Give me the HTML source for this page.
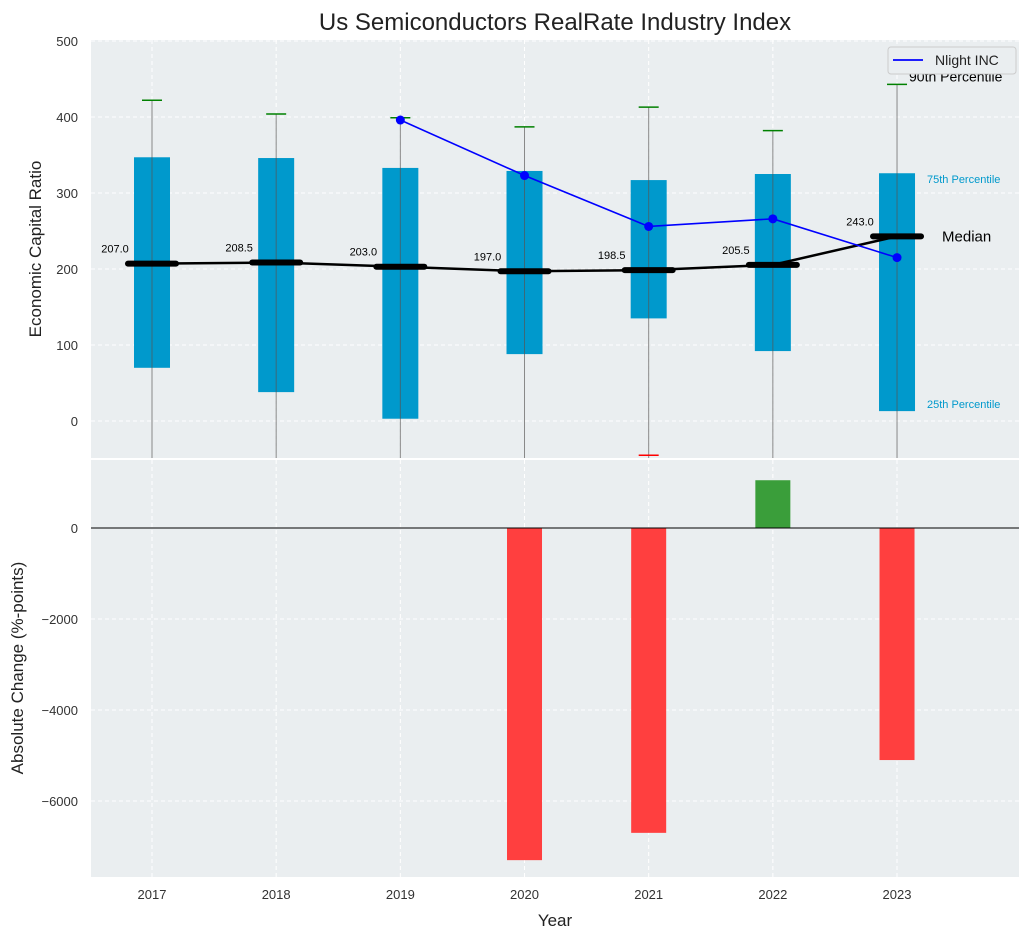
<!DOCTYPE html>
<html><head><meta charset="utf-8"><style>
body{margin:0;background:#fff;font-family:"Liberation Sans",sans-serif}
svg text{font-family:"Liberation Sans",sans-serif}
</style></head><body>
<svg id="c" width="1030" height="940"></svg>
<script>
const years=[2017,2018,2019,2020,2021,2022,2023];
const q1=[70,38,3,88,135,92,13];
const q3=[347,346,333,329,317,325,326];
const p90=[422,404,399,387,413,382,443];
const medians=[207,208.5,203,197,198.5,205.5,243];
const lowWhisker=[null,null,null,null,-45,null,null];
const nlightYears=[2019,2020,2021,2022,2023];
const nlightVals=[396,323,256,266,215];
const changeYears=[2020,2021,2022,2023];
const changeVals=[-7300,-6700,1050,-5100];
const topTicks=[0,100,200,300,400,500];
const botTicks=[0,-2000,-4000,-6000];

const NS="http://www.w3.org/2000/svg";
const svg=document.getElementById('c');
function el(t,a,p){const e=document.createElementNS(NS,t);for(const k in a)e.setAttribute(k,a[k]);(p||svg).appendChild(e);return e;}
const L=91,R=1019;
const x=v=>152+(v-2017)*124.17;
const yT=v=>421-0.76*v;
const yB=v=>528-v*91/2000;
let e=el('rect',{x:L,y:40,width:R-L,height:418,fill:'#eaeef0'});

e=el('rect',{x:L,y:460,width:R-L,height:417,fill:'#eaeef0'});

const clipT=el('clipPath',{id:'ct'});el('rect',{x:L,y:40,width:R-L,height:418},clipT);
years.forEach(yr=>{
 el('line',{x1:x(yr),x2:x(yr),y1:40,y2:458,stroke:'#fff','stroke-dasharray':'4,3'});
 el('line',{x1:x(yr),x2:x(yr),y1:460,y2:877,stroke:'#fff','stroke-dasharray':'4,3'});
 e=el('text',{x:x(yr),y:899,'text-anchor':'middle','font-size':13,fill:'#333'});e.textContent=yr;
 
});
topTicks.forEach(t=>{
 el('line',{x1:L,x2:R,y1:yT(t),y2:yT(t),stroke:'#fff','stroke-dasharray':'4,3'});
 e=el('text',{x:78,y:yT(t)+5,'text-anchor':'end','font-size':13,fill:'#333'});e.textContent=t;
 
});
botTicks.forEach(t=>{
 el('line',{x1:L,x2:R,y1:yB(t),y2:yB(t),stroke:'#fff','stroke-dasharray':'4,3'});
 e=el('text',{x:78,y:yB(t)+5,'text-anchor':'end','font-size':13,fill:'#333'});e.textContent=(t<0?'\u2212'+(-t):t);
 
});
const g=el('g',{'clip-path':'url(#ct)'});
years.forEach((yr,i)=>{
 const cx=x(yr);
 e=el('line',{x1:cx,x2:cx,y1:yT(p90[i]),y2:470,stroke:'#888','stroke-width':1},g);
 
 e=el('rect',{x:cx-18,y:yT(q3[i]),width:36,height:yT(q1[i])-yT(q3[i]),fill:'#0099cc'},g);
 
 el('line',{x1:cx,x2:cx,y1:yT(q3[i]),y2:yT(q1[i]),stroke:'#555','stroke-width':1,opacity:0.7},g);
 e=el('line',{x1:cx-10,x2:cx+10,y1:yT(p90[i]),y2:yT(p90[i]),stroke:'green','stroke-width':1.5},g);
 
 if(lowWhisker[i]!==null){e=el('line',{x1:cx-10,x2:cx+10,y1:yT(lowWhisker[i]),y2:yT(lowWhisker[i]),stroke:'red','stroke-width':1.5},g);
 }
});
e=el('polyline',{points:years.map((yr,i)=>x(yr)+','+yT(medians[i])).join(' '),fill:'none',stroke:'#000','stroke-width':2.5},g);

years.forEach((yr,i)=>{
 e=el('line',{x1:x(yr)-24,x2:x(yr)+24,y1:yT(medians[i]),y2:yT(medians[i]),stroke:'#000','stroke-width':6,'stroke-linecap':'round'},g);
 
 e=el('text',{x:x(yr)-37,y:yT(medians[i])-11,'text-anchor':'middle','font-size':11,fill:'#000'});e.textContent=medians[i].toFixed(1);
 
});
e=el('polyline',{points:nlightYears.map((yr,i)=>x(yr)+','+yT(nlightVals[i])).join(' '),fill:'none',stroke:'#0000ff','stroke-width':1.6},g);

nlightYears.forEach((yr,i)=>{e=el('circle',{cx:x(yr),cy:yT(nlightVals[i]),r:4.5,fill:'#0000ff'},g);
 });
const last=years.length-1,ax=x(years[last]);
e=el('text',{x:ax+12,y:yT(p90[last])-3,'font-size':14,fill:'#000'});e.textContent='90th Percentile';

e=el('text',{x:ax+30,y:yT(q3[last])+10,'font-size':11,fill:'#0099cc'});e.textContent='75th Percentile';

e=el('text',{x:ax+30,y:yT(q1[last])-3,'font-size':11,fill:'#0099cc'});e.textContent='25th Percentile';

e=el('text',{x:ax+45,y:yT(medians[last])+5,'font-size':15,fill:'#000'});e.textContent='Median';

e=el('g',{});
el('rect',{x:888,y:47,width:128,height:27,rx:3,fill:'#eaeef0',stroke:'#ccc'},e);
el('line',{x1:893,x2:923,y1:60,y2:60,stroke:'#0000ff','stroke-width':1.8},e);
const lt=el('text',{x:935,y:65,'font-size':14,fill:'#222'},e);lt.textContent='Nlight INC';
changeYears.forEach((yr,i)=>{const v=changeVals[i];
 e=el('rect',{x:x(yr)-17.5,y:Math.min(yB(0),yB(v)),width:35,height:Math.abs(yB(v)-yB(0)),fill:v<0?'#ff3f3f':'#3a9e3a'});
 });
el('line',{x1:L,x2:R,y1:yB(0),y2:yB(0),stroke:'#000','stroke-width':1});
e=el('text',{x:555,y:30,'text-anchor':'middle','font-size':24,fill:'#222'});e.textContent='Us Semiconductors RealRate Industry Index';

e=el('text',{x:555,y:926,'text-anchor':'middle','font-size':17,fill:'#222'});e.textContent='Year';

e=el('text',{x:0,y:0,'text-anchor':'middle','font-size':17,fill:'#222',transform:'translate(41,249) rotate(-90)'});e.textContent='Economic Capital Ratio';

e=el('text',{x:0,y:0,'text-anchor':'middle','font-size':17,fill:'#222',transform:'translate(23,668) rotate(-90)'});e.textContent='Absolute Change (%-points)';

</script>
</body></html>
